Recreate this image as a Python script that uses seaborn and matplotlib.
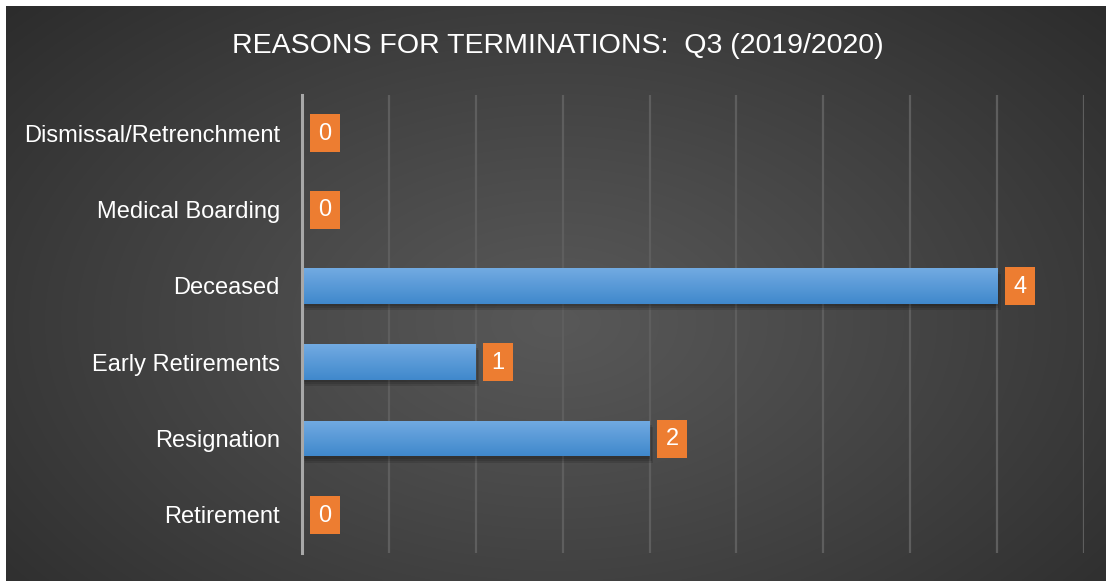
import numpy as np
import pandas as pd
import matplotlib
matplotlib.use("Agg")
import matplotlib.pyplot as plt
import matplotlib.transforms as mtransforms
from matplotlib.patches import Rectangle
from matplotlib.offsetbox import DrawingArea, AnnotationBbox
from matplotlib.text import Text
import seaborn as sns

categories = ["Dismissal/Retrenchment", "Medical Boarding", "Deceased",
              "Early Retirements", "Resignation", "Retirement"]
values = [0, 0, 4, 1, 2, 0]
title = "REASONS FOR TERMINATIONS:  Q3 (2019/2020)"

sns.set_theme(style="dark")
plt.rcParams["font.family"] = ["Liberation Sans", "DejaVu Sans"]

W, H, DPI = 1106, 581, 100
fig = plt.figure(figsize=(W / DPI, H / DPI), dpi=DPI)
fig.patch.set_facecolor("white")

# background panel with radial gradient
bg = fig.add_axes([6 / W, 0, 1 - 6 / W, 1 - 6 / H])
bg.set_axis_off()
gx, gy = np.meshgrid(np.linspace(0, 1, 400), np.linspace(0, 1, 220))
cx, cy = 0.5, 0.45
r = np.sqrt(((gx - cx) / 0.75) ** 2 + ((gy - cy) / 0.9) ** 2)
r = np.clip(r, 0, 1)
c0, c1 = 0x58 / 255, 0x27 / 255
shade = c0 + (c1 - c0) * r ** 1.1
img = np.dstack([shade, shade, shade])
bg.imshow(img, aspect="auto", extent=[0, 1, 0, 1], origin="lower", interpolation="bilinear")
bg.set_zorder(0)

ax = fig.add_axes([302 / W, 1 - 553 / H, (1084 - 302) / W, (553 - 95) / H])
ax.set_zorder(1)
ax.patch.set_alpha(0)

df = pd.DataFrame({"category": categories, "value": values})
sns.barplot(data=df, y="category", x="value", orient="h", color="#5b9bd5",
            width=0.47, ax=ax, saturation=1, zorder=3, linewidth=0, edgecolor="none")

ax.set_xlim(0, 4.5)
ax.set_xticks(np.arange(0, 4.51, 0.5))
ax.set_xticklabels([])
ax.tick_params(axis="x", length=0)
ax.tick_params(axis="y", length=0, colors="white", labelsize=17, pad=22)
for lbl in ax.get_yticklabels():
    lbl.set_color("white")
ax.set_xlabel("")
ax.set_ylabel("")
ax.grid(axis="x", color="#5e5e5e", linewidth=1.6, zorder=1)
ax.grid(axis="y", visible=False)
for s in ["top", "right", "bottom"]:
    ax.spines[s].set_visible(False)
ax.spines["left"].set_color("#a8a8a8")
ax.spines["left"].set_linewidth(2.2)
ax.spines["left"].set_zorder(5)

# gradient + shadow on bars
grad = np.linspace(0, 1, 64).reshape(-1, 1)
top = np.array([0x72, 0xab, 0xe2]) / 255
bot = np.array([0x40, 0x88, 0xcc]) / 255
gimg = (top * (1 - grad)[..., None] + bot * grad[..., None]).reshape(64, 1, 3)
for p in list(ax.patches):
    x0, y0 = p.get_x(), p.get_y()
    w, h = p.get_width(), p.get_height()
    if w <= 0:
        continue
    for k, a in enumerate([0.12, 0.12, 0.12]):
        sh = Rectangle((x0, y0), w, h,
                       transform=ax.transData + mtransforms.ScaledTranslation((0.5 + k) / 72, -(1.5 + k * 1.5) / 72, fig.dpi_scale_trans),
                       facecolor="black", alpha=a, edgecolor="none", zorder=2)
        ax.add_patch(sh)
    im = ax.imshow(gimg, extent=[x0, x0 + w, y0 + h, y0], aspect="auto", zorder=3.5, interpolation="bilinear")
    im.set_clip_path(p)
ax.set_xlim(0, 4.5)
ax.set_ylim(5.5, -0.5)

for lbl in ax.get_yticklabels():
    lbl.set_color("white")
ax.tick_params(axis="y", pad=16)

# value labels in orange boxes
bw, bh = 30 * 72 / DPI, 38 * 72 / DPI
for i, v in enumerate(values):
    da = DrawingArea(bw, bh, 0, 0)
    da.add_artist(Rectangle((0, 0), bw, bh, facecolor="#ed7d31", edgecolor="none"))
    da.add_artist(Text(bw / 2, bh / 2 - 0.5, str(v), color="white", fontsize=17,
                       ha="center", va="center", family=["Liberation Sans", "DejaVu Sans"]))
    ab = AnnotationBbox(da, (v, i), xybox=(7.5 * 72 / DPI, 0), boxcoords="offset points",
                        box_alignment=(0, 0.5), frameon=False, pad=0, zorder=6)
    ax.add_artist(ab)

fig.text(558 / W, 1 - 46 / H, title, color="white", fontsize=20.5, ha="center", va="center",
         family=["Liberation Sans Narrow", "Liberation Sans", "DejaVu Sans"])

fig.savefig("out.png", dpi=DPI, facecolor=fig.get_facecolor())
